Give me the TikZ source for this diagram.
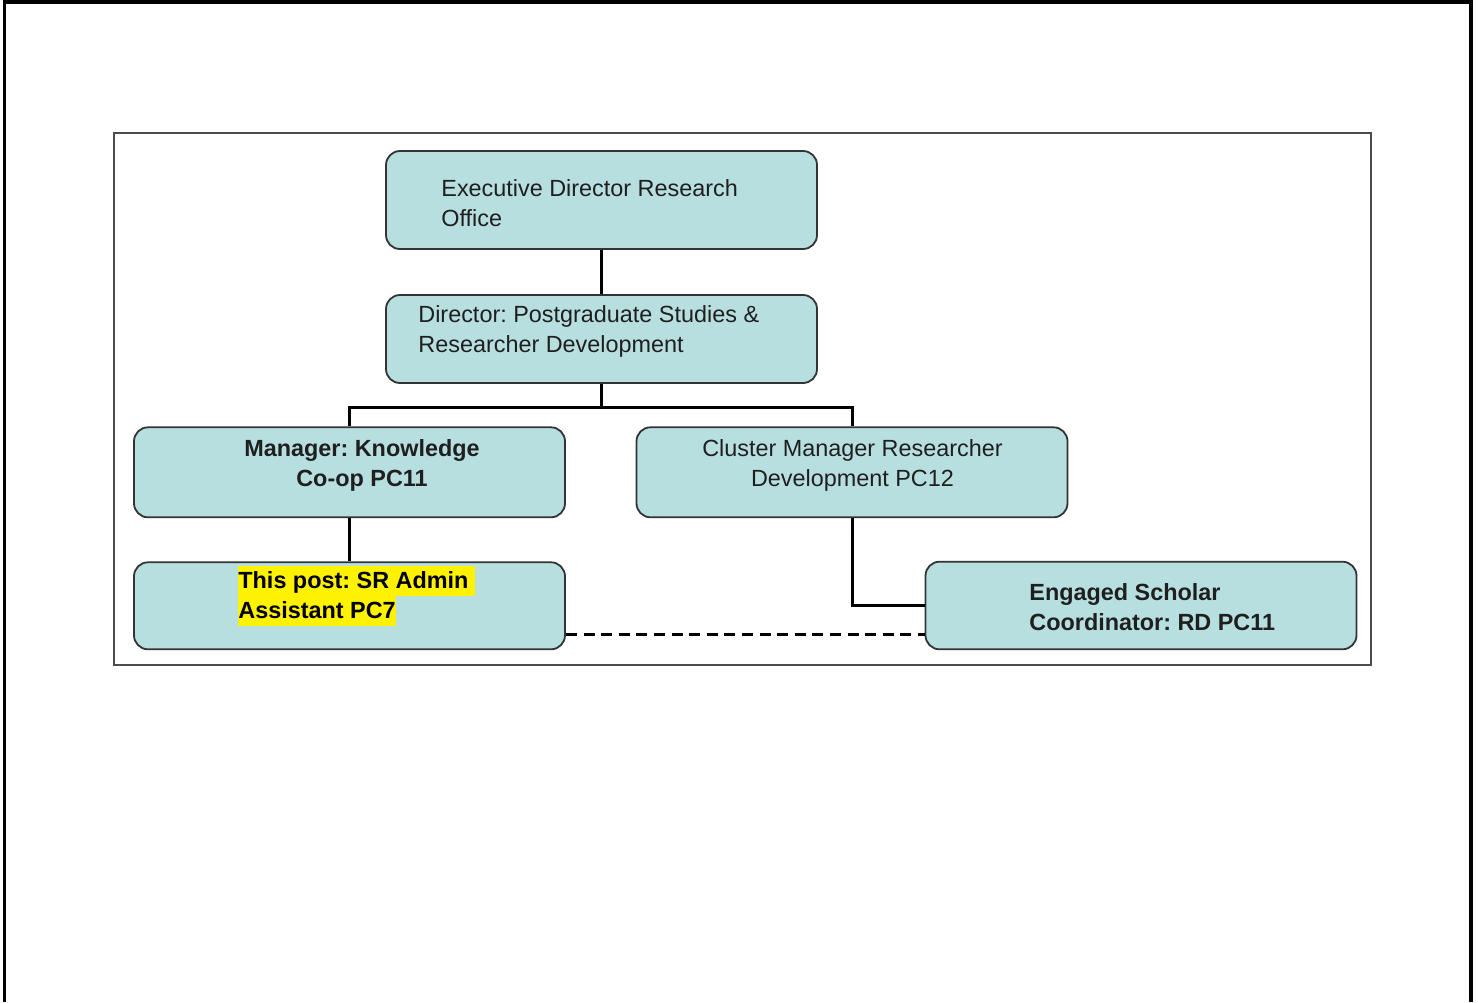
\documentclass[tikz,border=0pt]{standalone}
\usepackage{fontspec}
\setmainfont{Liberation Sans}
\usetikzlibrary{positioning,calc}
\frenchspacing

\definecolor{boxfill}{RGB}{184,223,224}
% yellow marker behind one line of text
\newcommand{\hilite}[1]{{\setlength{\fboxsep}{0pt}\colorbox{yellow}{\rule[-4pt]{0pt}{15pt}#1}}}

\begin{document}
\begin{tikzpicture}[x=0.5pt,y=-0.5pt,
    unit/.style={draw=black!80,line width=0.9pt,rounded corners=7pt,fill=boxfill,
      minimum width=215.5pt,inner sep=0pt},
    unittext/.style={font=\fontsize{11.7}{15}\selectfont,text=black!88,inner sep=0pt},
    link/.style={line width=1.5pt},
    dotlink/.style={line width=1.5pt,dash pattern=on 5.5pt off 3.3pt}]
  \useasboundingbox (0,0) rectangle (1478,1002);

  % page and chart frames
  \draw[line width=1.8pt] (4.5,1002) -- (4.5,2) -- (1471,2) -- (1471,1002);
  \draw[black!70,line width=1pt] (113.5,133) rectangle (1371,665);

  % boxes
  \node[unit,minimum height=49pt] (exec) at (601.5,200) {};
  \node[unit,minimum height=44pt] (dir) at (601.5,339) {};
  \node[unit,minimum height=45pt] (mgr) at (349.5,472.3) {};
  \node[unit,minimum height=45pt] (clus) at (852,472.3) {};
  \node[unit,minimum height=43.5pt] (post) at (349.5,605.8) {};
  \node[unit,minimum height=43.8pt] (eng) at (1141,605.5) {};

  % reporting lines
  \coordinate (bus) at ($(dir.south)+(0,24)$);
  \draw[link] (exec.south) -- (dir.north);
  \draw[link] (dir.south) -- (bus);
  \draw[link] (mgr.north) |- (bus) -| (clus.north);
  \draw[link] (mgr.south) -- (post.north);
  \draw[link] (clus.south) |- (eng.west);
  \draw[dotlink] ([yshift=7.7pt]post.south east) -- ([yshift=7.7pt]post.south east -| eng.west);

  % titles (base = last line)
  \node[unittext,align=left,anchor=base west] (exec-t) at (441,226)
    {Executive Director Research\\Office};
  \node[unittext,align=left,anchor=base west] (dir-t) at (418,352)
    {Director: Postgraduate Studies \&\\Researcher Development};
  \node[unittext,align=center,anchor=base,font=\fontsize{11.7}{15}\selectfont\bfseries] (mgr-t) at (362,486)
    {Manager: Knowledge\\Co-op PC11};
  \node[unittext,align=center,anchor=base] (clus-t) at (852.5,486)
    {Cluster Manager Researcher\\Development PC12};
  \node[unittext,align=left,anchor=base west,text=black,font=\fontsize{11.7}{15}\selectfont\bfseries] (post-t) at (238,618)
    {\hilite{This post: SR Admin\ }\\\hilite{Assistant PC7}};
  \node[unittext,align=left,anchor=base west,font=\fontsize{11.7}{15}\selectfont\bfseries] (eng-t) at (1029,630.7)
    {Engaged Scholar\\Coordinator: RD PC11};
\end{tikzpicture}
\end{document}
